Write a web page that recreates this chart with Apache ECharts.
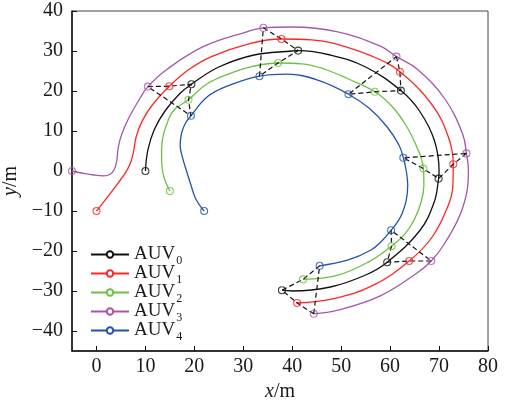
<!DOCTYPE html>
<html>
<head>
<meta charset="utf-8">
<script src="https://cdn.jsdelivr.net/npm/echarts@6/dist/echarts.min.js"></script>
<style>
html, body { margin: 0; padding: 0; background: #fff; }
#chart { width: 508px; height: 401px; }
</style>
</head>
<body>
<div id="chart"></div>
<script>
// 轨迹数据 (x/m, y/m)
var auvNames = ['AUV0', 'AUV1', 'AUV2', 'AUV3', 'AUV4'];

var path0 = [[10,0],[10.5,5.2],[11.8,10.3],[14,15],[17,19.3],[19.4,21.7],[25,26],[32.2,29],[40,30],[41.2,30.1],[47.8,29],[55,26],[62.2,20.1],[66,15],[69,7.8],[70,0],[69.9,-1.9],[69,-7.8],[66,-15],[59.4,-22.8],[55,-26],[47.8,-29],[40,-30],[37.9,-29.8]];
var path1 = [[0,-10],[2.2,-6.6],[4.3,-3.2],[6,-0.3],[7,2.2],[7.6,5],[8.1,8.5],[9.3,12.4],[11.4,16.5],[14.9,21.2],[18.8,25.3],[23.5,28.6],[31.5,31.9],[37.8,33],[44,32.8],[48.5,31.9],[56.5,28.6],[62,24.8],[68.6,16.5],[71.9,8.5],[72.9,1.7],[72.8,-4],[71.9,-8.5],[68.6,-16.5],[63.9,-22.5],[56.5,-28.6],[48.5,-31.9],[41,-33]];
var path2 = [[15,-5],[13.9,-2],[13.4,1],[13.3,4],[13.5,8],[14.3,11.5],[15.8,15.2],[18.8,17.8],[22.6,21.8],[28,24.7],[32.1,26.2],[37.1,27],[42,26.8],[46.5,25.5],[51.5,23],[56.9,19.8],[60.5,16],[63.2,11.5],[65.4,6.2],[66.8,0.6],[66.9,-3.5],[66.4,-7.5],[65,-12],[63,-15.8],[60.3,-18.8],[55.8,-22.6],[49.2,-26.1],[42.2,-27.1]];
var path3 = [[-5,0],[-3,-0.5],[-0.5,-1],[1.5,-1.2],[2.8,-0.8],[3.6,0.3],[4.1,2.2],[4.5,6.2],[5.2,9.3],[6.5,13],[8.8,18],[10.5,21.1],[14.5,25.5],[22,31.2],[30.7,34.8],[34.1,35.8],[40,36],[49.3,34.8],[58,31.2],[61.3,28.6],[65.5,25.5],[71.2,18],[74.8,9.3],[75.6,4.4],[76,0],[74.8,-9.3],[71.2,-18],[68.4,-22.5],[65.5,-25.5],[58,-31.2],[49.3,-34.8],[44.4,-35.7]];
var path4 = [[22,-10],[20.3,-7],[19.3,-3.5],[18.4,0],[17.6,3.3],[17.1,6.4],[17.4,9.5],[18.2,12],[19.3,13.8],[22.6,18.5],[26.7,21.2],[33.3,23.7],[39,24.2],[45.5,22.6],[51.5,19.2],[55.8,15.6],[59.4,11],[61.8,6.5],[62.7,3.3],[63.3,0],[63.6,-3.5],[63.3,-7.3],[62.5,-10.5],[61.6,-12.6],[60.2,-14.8],[58.3,-17.5],[56,-19.8],[51.3,-22.3],[45.6,-23.7]];

// 标记点：起点 + 6 个编队时刻
var mark0 = [[10,0],[19.4,21.7],[41.2,30.1],[62.2,20.1],[69.9,-1.9],[59.4,-22.8],[37.9,-29.8]];
var mark1 = [[0,-10],[14.9,21.2],[37.8,33],[62,24.8],[72.9,1.7],[63.9,-22.5],[41,-33]];
var mark2 = [[15,-5],[18.8,17.8],[37.1,27],[56.9,19.8],[66.8,0.6],[60.3,-18.8],[42.2,-27.1]];
var mark3 = [[-5,0],[10.5,21.1],[34.1,35.8],[61.3,28.6],[75.6,4.4],[68.4,-22.5],[44.4,-35.7]];
var mark4 = [[22,-10],[19.3,13.8],[33.3,23.7],[51.5,19.2],[62.7,3.3],[60.2,-14.8],[45.6,-23.7]];

// 编队连线顺序 AUV3-AUV1-AUV0-AUV2-AUV4-AUV3
var linkOrder = [3, 1, 0, 2, 4, 3];

var xTicks = [0, 10, 20, 30, 40, 50, 60, 70, 80];
var yTicks = [-40, -30, -20, -10, 0, 10, 20, 30, 40];

var paths = [path0, path1, path2, path3, path4];
var marks = [mark0, mark1, mark2, mark3, mark4];
var colors = ['#111111', '#ff2626', '#6cc045', '#a557a8', '#2453ad'];
var font = 'Liberation Serif';

var myChart = echarts.init(document.getElementById('chart'));

var series = [];
// 轨迹
for (var i = 0; i < paths.length; i++) {
    series.push({
        name: auvNames[i],
        type: 'line',
        data: paths[i],
        smooth: 0.4,
        showSymbol: false,
        symbol: 'emptyCircle',
        symbolSize: 7,
        lineStyle: {color: colors[i], width: 1.3},
        itemStyle: {color: colors[i]},
        z: 2,
        silent: true
    });
}
// 编队虚线
for (var g = 1; g < mark0.length; g++) {
    var pts = [];
    for (var k = 0; k < linkOrder.length; k++) {
        pts.push(marks[linkOrder[k]][g]);
    }
    series.push({
        type: 'line',
        data: pts,
        showSymbol: false,
        symbol: 'none',
        lineStyle: {color: '#111', width: 1.2, type: [5, 3]},
        z: 3,
        silent: true
    });
}
// 圆圈标记
for (var m = 0; m < marks.length; m++) {
    series.push({
        type: 'scatter',
        data: marks[m],
        symbol: 'circle',
        symbolSize: 7,
        clip: false,
        itemStyle: {color: 'rgba(255,255,255,0)', borderColor: colors[m], borderWidth: 1.1},
        z: 4,
        silent: true
    });
}

function minusFmt(v) {
    return String(v).replace('-', '\u2212');
}

var option = {
    animation: false,
    backgroundColor: '#fff',
    grid: {
        left: 72, top: 11, right: 20, bottom: 50,
        outerBoundsMode: 'none',
        show: true, borderColor: '#444', borderWidth: 1
    },
    legend: {
        data: auvNames,
        orient: 'vertical',
        left: 90,
        top: 242,
        padding: 0,
        itemWidth: 38,
        itemHeight: 8,
        itemGap: -6,
        formatter: function (n) {
            return 'AUV{s|' + n.slice(3) + '}';
        },
        textStyle: {
            fontFamily: font, fontSize: 19, color: '#1a1a1a', lineHeight: 18,
            rich: {
                s: {fontFamily: font, fontSize: 12, color: '#1a1a1a', lineHeight: 5, padding: [13, 0, 0, 1]}
            }
        }
    },
    xAxis: {
        type: 'value',
        min: -5,
        max: 80,
        name: '{i|x}/m',
        nameLocation: 'middle',
        nameGap: 29,
        nameTextStyle: {
            fontFamily: font, fontSize: 20, color: '#1a1a1a',
            rich: {i: {fontFamily: font, fontSize: 20, fontStyle: 'italic', color: '#1a1a1a'}}
        },
        axisLine: {onZero: false, lineStyle: {color: '#111', width: 1.5}},
        axisTick: {inside: true, length: 5, customValues: xTicks, lineStyle: {color: '#111', width: 1}},
        axisLabel: {customValues: xTicks, margin: 6, fontFamily: font, fontSize: 20, color: '#1a1a1a', formatter: minusFmt},
        splitLine: {show: false}
    },
    yAxis: {
        type: 'value',
        min: -45,
        max: 40,
        name: '{i|y}/m',
        nameLocation: 'middle',
        nameGap: 47,
        nameTextStyle: {
            fontFamily: font, fontSize: 20, color: '#1a1a1a',
            rich: {i: {fontFamily: font, fontSize: 20, fontStyle: 'italic', color: '#1a1a1a'}}
        },
        axisLine: {onZero: false, lineStyle: {color: '#111', width: 1.5}},
        axisTick: {inside: true, length: 5, customValues: yTicks, lineStyle: {color: '#111', width: 1}},
        axisLabel: {customValues: yTicks, margin: 9, fontFamily: font, fontSize: 20, color: '#1a1a1a', formatter: minusFmt},
        splitLine: {show: false}
    },
    series: series
};

myChart.setOption(option);
</script>
</body>
</html>
